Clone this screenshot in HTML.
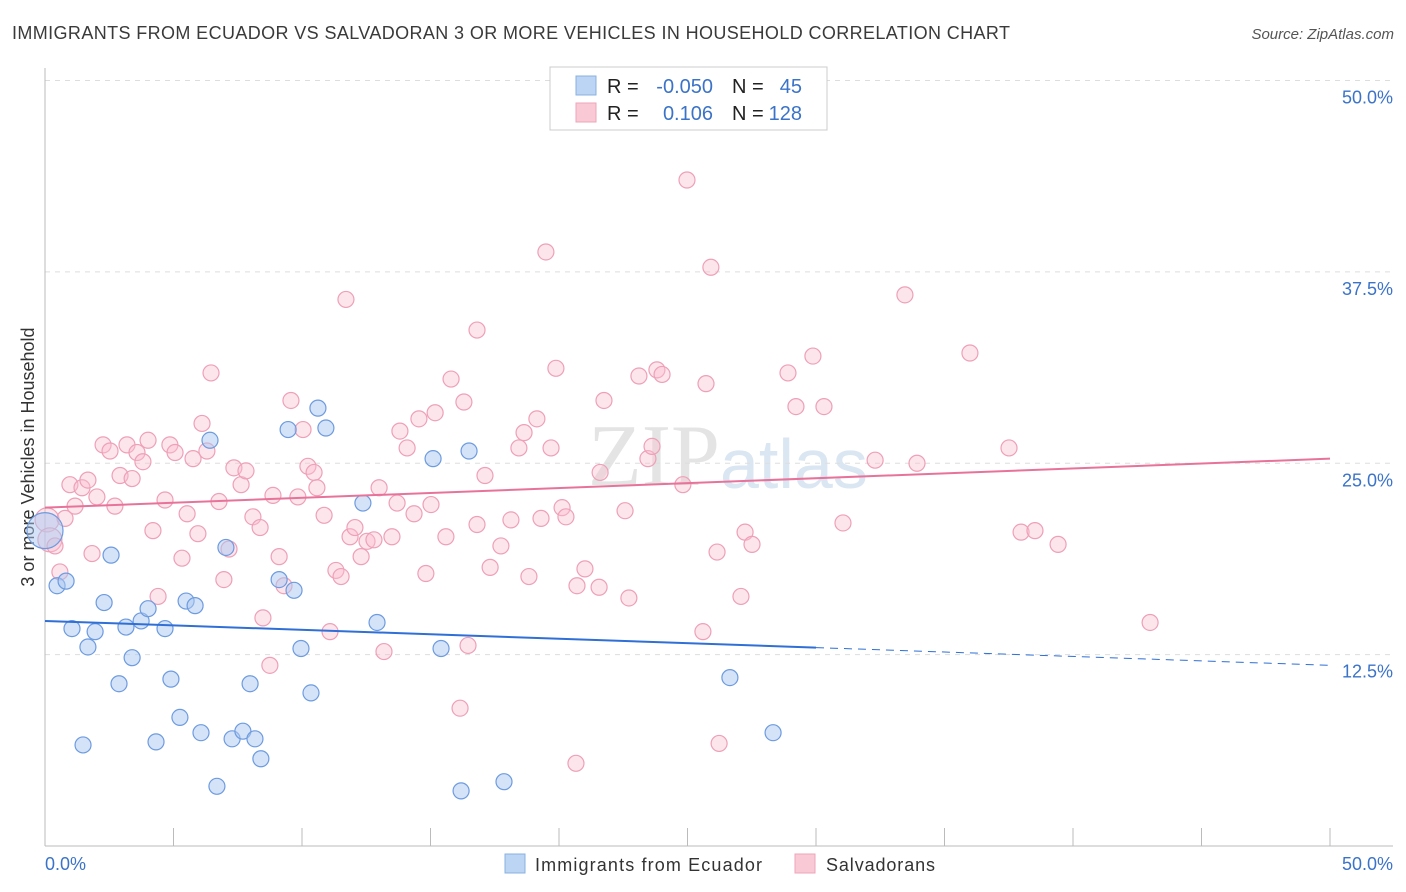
<!DOCTYPE html>
<html><head><meta charset="utf-8">
<style>
body{margin:0;background:#fff;font-family:"Liberation Sans",sans-serif;}
#wrap{position:relative;width:1406px;height:892px;overflow:hidden;}
</style></head>
<body>
<div id="wrap">
<svg id="svg" width="1406" height="892">
<text x="12" y="39" font-size="18" fill="#3a3a3a" textLength="998">IMMIGRANTS FROM ECUADOR VS SALVADORAN 3 OR MORE VEHICLES IN HOUSEHOLD CORRELATION CHART</text>
<text x="1394" y="39" font-size="15" fill="#555" font-style="italic" text-anchor="end">Source: ZipAtlas.com</text>
<text x="34" y="457" font-size="18" fill="#333" text-anchor="middle" transform="rotate(-90 34 457)">3 or more Vehicles in Household</text>
<text x="720" y="485" font-size="88" fill="#e4e4e4" text-anchor="end" font-family="Liberation Serif,serif">ZIP</text>
<text x="720" y="488" font-size="70" fill="#dbe6f3">atlas</text>
<g id="grid"></g><g id="pts"></g><g id="lines"></g>
<rect x="550" y="67" width="277" height="63" fill="#fff" stroke="#ccc"/>
<rect x="576" y="76" width="20" height="19" fill="#bcd5f5" stroke="#8ab0e0"/>
<rect x="576" y="103" width="20" height="19" fill="#f9c9d6" stroke="#eea5b9"/>
<g font-size="20">
<text x="607" y="93" fill="#222">R =</text><text x="713" y="93" fill="#3b73c8" text-anchor="end">-0.050</text>
<text x="732" y="93" fill="#222">N =</text><text x="802" y="93" fill="#3b73c8" text-anchor="end">45</text>
<text x="607" y="120" fill="#222">R =</text><text x="713" y="120" fill="#3b73c8" text-anchor="end">0.106</text>
<text x="732" y="120" fill="#222">N =</text><text x="802" y="120" fill="#3b73c8" text-anchor="end">128</text>
</g>
<rect x="505" y="854" width="20" height="19" fill="#bcd5f5" stroke="#8ab0e0"/>
<text x="535" y="871" font-size="18" fill="#333" textLength="227">Immigrants from Ecuador</text>
<rect x="795" y="854" width="20" height="19" fill="#f9c9d6" stroke="#eea5b9"/>
<text x="826" y="871" font-size="18" fill="#333" textLength="109">Salvadorans</text>
</svg>
</div>
<script>
const yTicks=[12.5,25,37.5,50];
const yTickLabels=["12.5%","25.0%","37.5%","50.0%"];
const xTickLabels=["0.0%","50.0%"];
const blueX=[0,0.47,0.82,1.05,1.48,1.67,1.95,2.30,2.57,2.88,3.15,3.39,3.74,4.01,4.32,4.67,4.90,5.25,5.49,5.84,6.07,6.42,7.04,7.28,7.70,7.98,8.17,8.40,6.69,9.11,9.46,9.69,9.96,10.35,10.62,10.93,12.37,12.92,15.10,15.41,16.19,16.50,17.86,26.65,28.33];
const blueY=[20.6,17.0,17.3,14.2,6.6,13.0,14.0,15.9,19.0,10.6,14.3,12.3,14.7,15.5,6.8,14.2,10.9,8.4,16.0,15.7,7.4,26.5,19.5,7.0,7.5,10.6,7.0,5.7,3.9,17.4,27.2,16.7,12.9,10.0,28.6,27.3,22.4,14.6,25.3,12.9,3.6,25.8,4.2,11.0,7.4];
const pinkX=[0.08,0.19,0.39,0.58,0.78,0.97,1.17,1.44,1.67,1.83,2.02,2.26,2.53,2.72,2.92,3.19,3.39,3.58,3.81,4.01,4.20,4.40,4.67,4.86,5.06,5.33,5.53,5.76,5.95,6.11,6.30,6.46,6.77,6.96,7.16,7.35,7.63,7.82,8.09,8.37,8.48,8.75,8.87,9.11,9.30,9.57,9.84,10.04,10.23,10.47,10.58,10.86,11.09,11.32,11.52,11.71,11.87,12.06,12.30,12.53,12.80,13.00,13.19,13.50,13.70,13.81,14.09,14.36,14.55,14.82,15.02,15.18,15.60,15.80,16.15,16.30,16.46,16.81,16.81,17.12,17.32,17.74,18.13,18.44,18.64,18.83,19.14,19.30,19.49,19.69,19.88,20.12,20.27,20.66,20.70,21.01,21.56,21.60,21.75,22.57,22.72,23.11,23.46,23.62,23.81,24.01,24.82,24.98,25.60,25.72,25.91,26.15,26.23,27.08,27.24,27.51,28.91,29.22,29.88,30.31,31.05,32.30,33.46,33.93,35.99,37.51,37.98,38.52,39.42,43.00];
const pinkY=[21.3,20.0,19.6,17.9,21.4,23.6,22.2,23.4,23.9,19.1,22.8,26.2,25.8,22.2,24.2,26.2,24.0,25.7,25.1,26.5,20.6,16.3,22.6,26.2,25.7,18.8,21.7,25.3,20.4,27.6,25.8,30.9,22.5,17.4,19.4,24.7,23.6,24.5,21.5,20.8,14.9,11.8,22.9,18.9,17.0,29.1,22.8,27.2,24.8,24.4,23.4,21.6,14.0,18.0,17.6,35.7,20.2,20.8,18.9,19.9,20.0,23.4,12.7,20.2,22.4,27.1,26.0,21.7,27.9,17.8,22.3,28.3,20.2,30.5,9.0,29.0,13.1,33.7,21.0,24.2,18.2,19.6,21.3,26.0,27.0,17.6,27.9,21.4,38.8,26.0,31.2,22.1,21.5,5.4,17.0,18.1,16.9,24.4,29.1,21.9,16.2,30.7,25.3,26.1,31.1,30.8,23.6,43.5,14.0,30.2,37.8,19.2,6.7,16.3,20.5,19.7,30.9,28.7,32.0,28.7,21.1,25.2,36.0,25.0,32.2,26.0,20.5,20.6,19.7,14.6];
const blueTrend=[14.7,11.8];
const pinkTrend=[22.1,25.3];
const NS='http://www.w3.org/2000/svg';
const X0=45,X1=1330,Y0=846,YS=15.31;
function xs(v){return X0+(v/50)*(X1-X0);}
function ys(v){return Y0-v*YS;}
function mk(tag,attrs,parent){const e=document.createElementNS(NS,tag);for(const k in attrs)e.setAttribute(k,attrs[k]);parent.appendChild(e);return e;}
const grid=document.getElementById('grid');
yTicks.forEach((t,i)=>{
  const l=mk('line',{x1:45,x2:1393,y1:ys(t),y2:ys(t),stroke:'#ddd','stroke-dasharray':'5,5'},grid);
  
  
  const tx=mk('text',{x:1393,y:ys(t)+23,'font-size':18,fill:'#3b73c8','text-anchor':'end'},grid);
  tx.textContent=yTickLabels[i];
  
  
});
const ax=mk('line',{x1:45,x2:1393,y1:846,y2:846,stroke:'#bbb'},grid);


const ay=mk('line',{x1:45,x2:45,y1:68,y2:846,stroke:'#bbb'},grid);


for(let i=0;i<=10;i++){
  const t=mk('line',{x1:xs(i*5),x2:xs(i*5),y1:828,y2:846,stroke:'#bbb'},grid);
  
  
}
[[0,'start',45],[50,'end',1393]].forEach((d,i)=>{
  const tx=mk('text',{x:d[2],y:870,'font-size':18,fill:'#3b73c8','text-anchor':d[1]},grid);
  tx.textContent=xTickLabels[i];
  
  
});
const pts=document.getElementById('pts');
pinkX.forEach((x,i)=>{
  const c=mk('circle',{cx:xs(x),cy:ys(pinkY[i]),r:i<2?12:8,fill:'rgba(249,190,208,0.4)',stroke:'#eea0b8','stroke-width':1.2},pts);
  
  
});
blueX.forEach((x,i)=>{
  const c=mk('circle',{cx:xs(x),cy:ys(blueY[i]),r:i==0?18:8,fill:'rgba(170,200,240,0.5)',stroke:'#6d9be0','stroke-width':1.2},pts);
  
  
});
const lines=document.getElementById('lines');
function ty(tr,x){return tr[0]+(tr[1]-tr[0])*x/50;}
const bl=mk('line',{x1:xs(0),y1:ys(ty(blueTrend,0)),x2:xs(30),y2:ys(ty(blueTrend,30)),stroke:'#2f6fd6','stroke-width':2},lines);


const bd=mk('line',{x1:xs(30),y1:ys(ty(blueTrend,30)),x2:xs(50),y2:ys(ty(blueTrend,50)),stroke:'#2f6fd6','stroke-width':1,'stroke-dasharray':'8,6'},lines);


const pl=mk('line',{x1:xs(0),y1:ys(ty(pinkTrend,0)),x2:xs(50),y2:ys(ty(pinkTrend,50)),stroke:'#e8739a','stroke-width':2},lines);


</script>
</body></html>
